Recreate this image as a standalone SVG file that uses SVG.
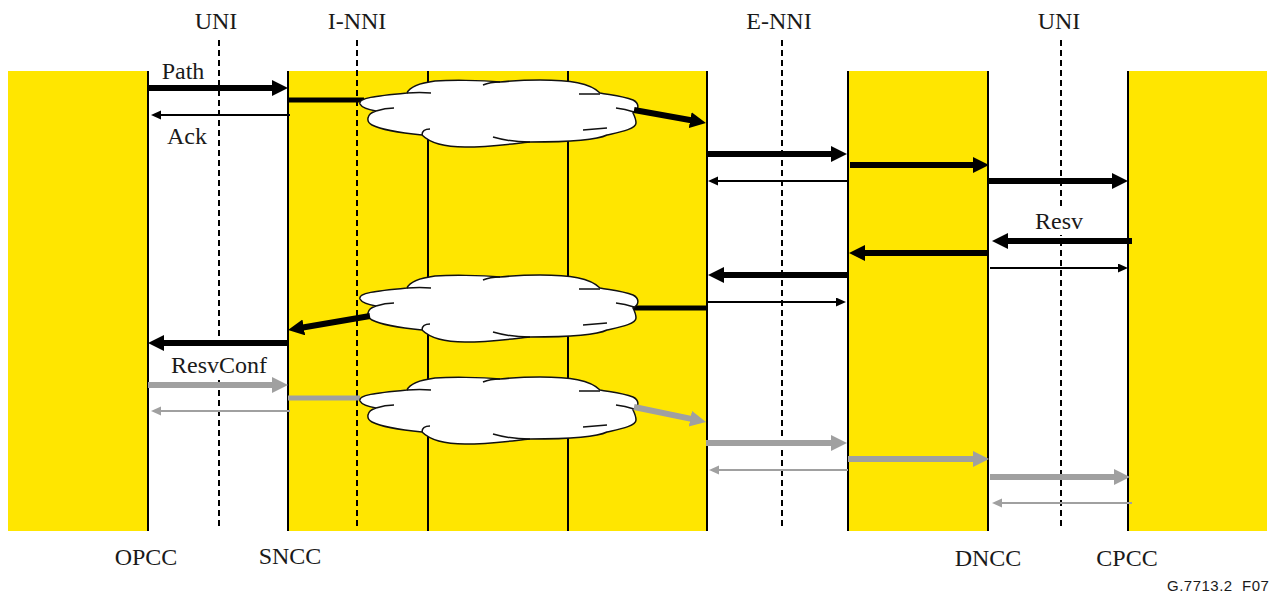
<svg xmlns="http://www.w3.org/2000/svg" xmlns:xlink="http://www.w3.org/1999/xlink" width="1270" height="593" viewBox="0 0 1270 593">
<style>
.band{fill:#FFE600}
.v{stroke:#000;stroke-width:2;fill:none}
.d{stroke:#000;stroke-width:2;stroke-dasharray:6 4;fill:none}
.t{font-family:"Liberation Serif","Times New Roman",serif;font-size:24px;fill:#1a1a1a;text-anchor:middle}
.c{font-family:"Liberation Sans",Arial,sans-serif;font-size:15px;letter-spacing:.5px;fill:#1a1a1a}
.k,.g{fill:none}
.k{stroke:#000}.g{stroke:#A0A0A0}
.w6{stroke-width:6}.w5{stroke-width:5}.w2{stroke-width:2}
.cloud{fill:#fff;stroke:#111;stroke-width:1.500}
.in{fill:none;stroke:#111;stroke-width:1.500}
.halo{fill:#fff}
</style>
<defs>
<marker id="kb" markerUnits="userSpaceOnUse" markerWidth="18" markerHeight="18" refX="1" refY="8" orient="auto"><path d="M0 0L16 8L0 16z" fill="#000"/></marker>
<marker id="gb" markerUnits="userSpaceOnUse" markerWidth="18" markerHeight="18" refX="1" refY="8" orient="auto"><path d="M0 0L16 8L0 16z" fill="#A0A0A0"/></marker>
<marker id="ks" markerUnits="userSpaceOnUse" markerWidth="12" markerHeight="11" refX="1" refY="4.500" orient="auto"><path d="M0 0L10 4.500L0 9z" fill="#000"/></marker>
<marker id="gs" markerUnits="userSpaceOnUse" markerWidth="12" markerHeight="11" refX="1" refY="4.500" orient="auto"><path d="M0 0L10 4.500L0 9z" fill="#A0A0A0"/></marker>
<g id="cloudShape">
<path class="cloud" d="M407 93C375 96 358 98 360 104C362 108 370 110 376 111C366 114 366 122 372 125C382 130 402 133 422 135C430 143 445 147 465 147C490 147 510 144 530 142C560 142 595 141 607 135C620 132 636 129 636 123C636 119 634 115 633 113C640 109 639 103 633 100C622 96 610 95 600 93C590 83 570 80 540 80C525 80 510 81 500 82C480 80 450 80 435 81C420 83 410 86 407 93Z"/>
<path class="in" d="M407 93Q420 92 431 93M376 111Q385 108 394 108M422 135Q422 129 430 129M493 137Q510 142 530 142M583 130Q595 129 607 128M634 112Q625 109 616 108M579 94H600M483 85Q490 82 500 82"/>
</g>
</defs>
<g id="bands">
<rect class="band" x="8" y="71" width="140" height="460"/>
<rect class="band" x="288" y="71" width="419" height="460"/>
<rect class="band" x="848" y="71" width="140" height="460"/>
<rect class="band" x="1128" y="71" width="139" height="460"/>
</g>
<g id="boundaries">
<path class="v" d="M148 71V531M288 71V531M428 71V531M568 71V531M707 71V531M848 71V531M988 71V531M1128 71V531"/>
<path class="d" d="M219 40V530M357 40V530M782 40V530M1061 40V530"/>
<rect class="halo" x="1050" y="207" width="22" height="28"/>
<rect class="halo" x="208" y="350" width="22" height="29"/>
</g>
<g id="connectors-plain">
<path class="k w5" d="M288 100H364M632 308H707"/>
<path class="g w5" d="M288 398H360"/>
</g>
<g id="cloud-path"><use xlink:href="#cloudShape" href="#cloudShape"/></g>
<g id="cloud-resv"><use xlink:href="#cloudShape" href="#cloudShape" y="195"/></g>
<g id="cloud-resvconf"><use xlink:href="#cloudShape" href="#cloudShape" y="297"/></g>
<g id="connectors">
<path class="k w6" marker-end="url(#kb)" d="M148 88H273"/>
<path class="k w2" marker-end="url(#ks)" d="M290 115H160"/>
<path class="k w6" marker-end="url(#kb)" d="M634 110L691.200 120.300"/>
<path class="k w6" marker-end="url(#kb)" d="M707 154H832"/>
<path class="k w6" marker-end="url(#kb)" d="M850 165H974"/>
<path class="k w6" marker-end="url(#kb)" d="M988 181H1113"/>
<path class="k w2" marker-end="url(#ks)" d="M848 181H717"/>
<path class="k w6" marker-end="url(#kb)" d="M1132 241H1007"/>
<path class="k w6" marker-end="url(#kb)" d="M988 253H864"/>
<path class="k w6" marker-end="url(#kb)" d="M848 275H723"/>
<path class="k w2" marker-end="url(#ks)" d="M990 268H1119"/>
<path class="k w2" marker-end="url(#ks)" d="M707 302H837"/>
<path class="k w6" marker-end="url(#kb)" d="M370 316L302.800 327.500"/>
<path class="k w6" marker-end="url(#kb)" d="M288 343H163"/>
<path class="g w6" marker-end="url(#gb)" d="M148 385H273"/>
<path class="g w2" marker-end="url(#gs)" d="M290 411H160"/>
<path class="g w6" marker-end="url(#gb)" d="M634 407L691.300 418.900"/>
<path class="g w6" marker-end="url(#gb)" d="M706 443H832"/>
<path class="g w2" marker-end="url(#gs)" d="M848 470H718"/>
<path class="g w6" marker-end="url(#gb)" d="M848 459H974"/>
<path class="g w6" marker-end="url(#gb)" d="M990 477H1115"/>
<path class="g w2" marker-end="url(#gs)" d="M1132 503H1001"/>
</g>
<g id="labels">
<text class="t" x="216" y="29">UNI</text>
<text class="t" x="357" y="29">I-NNI</text>
<text class="t" x="779" y="29">E-NNI</text>
<text class="t" x="1059" y="29">UNI</text>
<text class="t" x="183" y="79">Path</text>
<text class="t" x="187" y="144">Ack</text>
<text class="t" x="1059" y="229">Resv</text>
<text class="t" x="219" y="373">ResvConf</text>
<text class="t" x="146" y="565">OPCC</text>
<text class="t" x="290" y="564">SNCC</text>
<text class="t" x="988" y="566">DNCC</text>
<text class="t" x="1127" y="566">CPCC</text>
<text class="c" x="1167" y="591" xml:space="preserve">G.7713.2  F07</text>
</g>
</svg>
